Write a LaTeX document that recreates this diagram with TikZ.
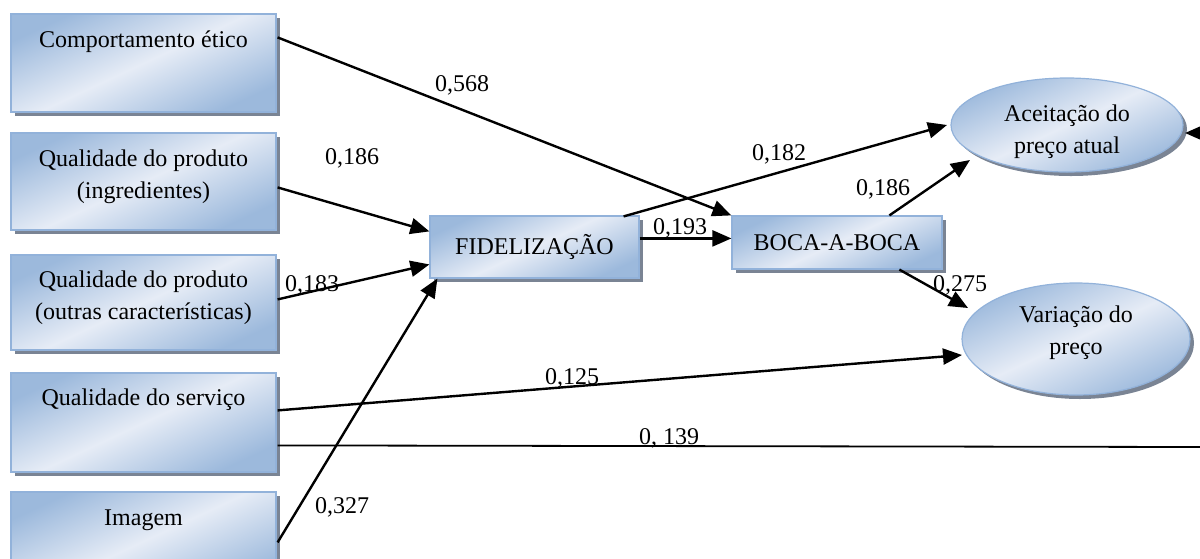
\documentclass[tikz,border=0pt]{standalone}
\usepackage{fontspec}
\setmainfont{Liberation Serif}
\usetikzlibrary{arrows.meta,shapes.geometric,shadows,calc}

\definecolor{boxedge}{RGB}{156,185,220}
\definecolor{boxmid}{RGB}{230,236,246}
\definecolor{boxline}{RGB}{146,178,218}
\definecolor{shadowgray}{RGB}{122,132,148}

\tikzset{
  txt/.style={font=\fontsize{12pt}{16pt}\selectfont, inner sep=0pt, align=center},
  panel/.style={draw=boxline, line width=0.6pt,
    top color=boxedge, bottom color=boxedge, middle color=boxmid, shading angle=25,
    drop shadow={shadow xshift=2pt, shadow yshift=-2pt, fill=shadowgray, opacity=1},
    inner sep=0pt},
  srcbox/.style={panel, rectangle, minimum width=132.5pt},
  midbox/.style={panel, rectangle, minimum width=104.5pt},
  oval/.style={panel, ellipse},
  path/.style={line width=1.2pt, -{Triangle[length=9.5pt,width=8pt]}},
  coef/.style={txt, fill=none}
}

\begin{document}
\begin{tikzpicture}[x=0.5pt,y=-0.5pt]
\useasboundingbox (0,0) rectangle (1200,558);
\clip (0,0) rectangle (1200,558);

% antecedent constructs
\node[srcbox, minimum height=49pt]   (c1) at (143.5,63)    {};
\node[srcbox, minimum height=48.5pt] (c2) at (143.5,181.5) {};
\node[srcbox, minimum height=47.5pt] (c3) at (143.5,302.5) {};
\node[srcbox, minimum height=49.5pt] (c4) at (143.5,422.5) {};
\node[srcbox, minimum height=49pt]   (c5) at (143.5,541)   {};

\node[txt] (c1t) at (143.5,42)    {Comportamento ético};
\node[txt] (c2t) at (143.5,177)   {Qualidade do produto\\(ingredientes)};
\node[txt] (c3t) at (143.5,297.5) {Qualidade do produto\\(outras características)};
\node[txt] (c4t) at (143.5,400)   {Qualidade do serviço};
\node[txt] (c5t) at (143.5,520)   {Imagem};

% mediators
\node[midbox, minimum height=31pt, txt] (fid) at (534.5,247) {FIDELIZAÇÃO};
\node[midbox, minimum width=105pt, minimum height=26.5pt, txt] (boca) at (837,242.5) {BOCA-A-BOCA};

% outcomes
\node[oval, minimum width=116pt, minimum height=47pt] (acc) at (1067,125) {};
\node[oval, minimum width=114pt, minimum height=56pt] (var) at (1076,339) {};
\node[txt] (acct) at (1067,132) {Aceitação do\\preço atual};
\node[txt] (vart) at (1076,333) {Variação do\\preço};

\coordinate (edgeR) at (1200,447);
\coordinate (edgeA) at (1200,133);

% structural paths
\draw[path] ($(c1.north east)+(1,24)$) -- (boca.north west);
\draw[path] ($(c2.north east)+(1,55)$) -- ($(fid.north west)+(0,16)$);
\draw[path] ($(c3.north east)+(1,45)$) -- ($(fid.north west)+(0,49)$);
\draw[path] ($(c5.north east)+(1,51)$) -- ($(fid.south west)+(8,0)$);
\draw[path] ($(c4.north east)+(1,38)$) -- ($(var.center)+(-114,16)$);
\draw[line width=0.9pt] ($(c4.north east)+(1,73)$) -- (edgeR);
\draw[path] ($(fid.north east)+(0,23)$) -- ($(boca.north west)+(0,23)$);
\draw[path] ($(fid.north east)+(-16,1)$) -- ($(acc.center)+(-120,0)$);
\draw[path] ($(boca.north west)+(158,0)$) -- ($(acc.center)+(-97,35)$);
\draw[path] ($(boca.south west)+(168,0)$) -- ($(var.center)+(-108,-31)$);
\draw[path] (edgeA) -- ($(acc.center)+(118,8)$);

% path coefficients
\node[coef] (k1)  at (462,85)  {0,568};
\node[coef] (k2)  at (352,158) {0,186};
\node[coef] (k3)  at (312,285) {0,183};
\node[coef] (k4)  at (342,507) {0,327};
\node[coef] (k5)  at (572,378) {0,125};
\node[coef] (k6)  at (669,438) {0, 139};
\node[coef] (k7)  at (680,228) {0,193};
\node[coef] (k8)  at (779,154) {0,182};
\node[coef] (k9)  at (883,189) {0,186};
\node[coef] (k10) at (960,285) {0,275};
\end{tikzpicture}
\end{document}
